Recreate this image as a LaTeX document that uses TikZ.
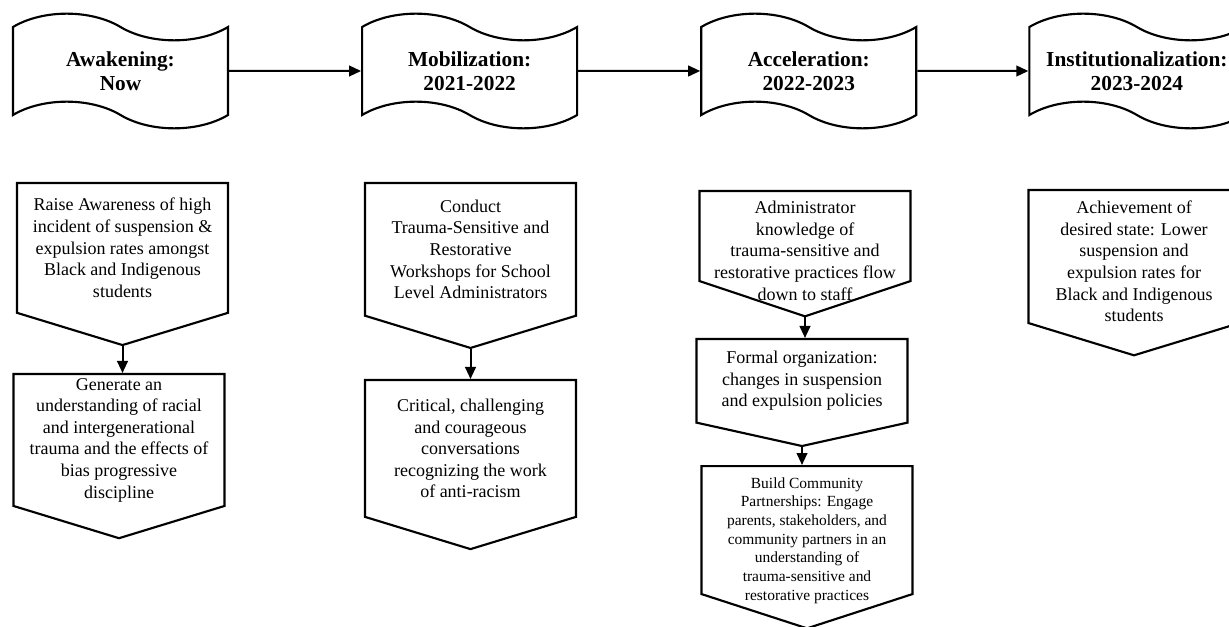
\documentclass[tikz,border=0pt]{standalone}
\usepackage{fontspec}
\setmainfont{Liberation Serif}
\usetikzlibrary{shapes.symbols,arrows.meta,positioning}
\tikzset{
	stage/.style={
		draw, tape, line width=1.6pt, fill=white,
		tape bend top=out and in, tape bend bottom=out and in,
		tape bend height=20pt,
		minimum width=161.25pt, minimum height=86pt,
		inner sep=0pt, align=center, text=black,
		font=\fontsize{16}{18}\selectfont\bfseries
	},
	task/.style={
		draw, signal, signal to=south, signal from=nowhere,
		signal pointer angle=146, line width=1.6pt, fill=white,
		minimum width=158.25pt, inner xsep=2pt, inner ysep=1pt,
		align=center, text=black, anchor=north,
		font=\fontsize{13.5}{16.2}\selectfont
	},
	flow_arrow/.style={-{Triangle[length=9pt,width=8pt]}, line width=1.5pt}
}
\begin{document}
\begin{tikzpicture}[x=0.75pt,y=-0.75pt]
	\useasboundingbox (0,0) rectangle (1229,627);
	\node[stage] (awaken) at (120.5,71) {Awakening:\\Now};
	\node[stage] (mobil) [right=99pt of awaken] {Mobilization:\\2021-2022};
	\node[stage] (accel) [right=91.5pt of mobil] {Acceleration:\\2022-2023};
	\node[stage] (instit) [right=83.25pt of accel] {Institutionalization:\\2023-2024};
	\draw[flow_arrow] (awaken) -- (mobil);
	\draw[flow_arrow] (mobil) -- (accel);
	\draw[flow_arrow] (accel) -- (instit);

	\node[task, minimum height=118.5pt] (awaken_a) at (122.5,182)
		{Raise Awareness of high\\incident of suspension \&\\expulsion rates amongst\\Black and Indigenous\\students};
	\node[task, minimum height=120pt] (awaken_b) at (119,373)
		{Generate an\\understanding of racial\\and intergenerational\\trauma and the effects of\\bias progressive\\discipline};
	\node[task, minimum height=118.5pt] (mobil_a) at (470.5,182)
		{Conduct\\Trauma-Sensitive and\\Restorative\\Workshops for School\\Level Administrators};
	\node[task, minimum height=120.75pt] (mobil_b) at (470.5,379)
		{Critical, challenging\\and courageous\\conversations\\recognizing the work\\of anti-racism};
	\node[task, minimum height=0pt, inner ysep=-14.25pt, text height=96pt, text depth=0pt,
		signal pointer angle=143] (accel_a) at (805,190)
		{Administrator\\knowledge of\\trauma-sensitive and\\restorative practices flow\\down to staff};
	\node[task, minimum height=76.5pt, signal pointer angle=155] (accel_b) at (802,338)
		{Formal organization:\\changes in suspension\\and expulsion policies};
	\node[task, minimum height=0pt, inner ysep=-4.5pt, text height=105pt, text depth=0pt,
		signal pointer angle=144, font=\fontsize{11.6}{14}\selectfont] (accel_c) at (807,465)
		{Build Community\\Partnerships: Engage\\parents, stakeholders, and\\community partners in an\\understanding of\\trauma-sensitive and\\restorative practices};
	\node[task, minimum height=0pt, inner ysep=0pt, text height=98.8pt, text depth=0.95pt] (instit_a) at (1134,189)
		{Achievement of\\desired state: Lower\\suspension and\\expulsion rates for\\Black and Indigenous\\students};

	\draw[flow_arrow] (awaken_a.south) -- (awaken_a.south |- awaken_b.north);
	\draw[flow_arrow] (mobil_a.south) -- (mobil_a.south |- mobil_b.north);
	\draw[flow_arrow] (accel_a.south) -- (accel_a.south |- accel_b.north);
	\draw[flow_arrow] (accel_b.south) -- (accel_b.south |- accel_c.north);
\end{tikzpicture}
\end{document}
